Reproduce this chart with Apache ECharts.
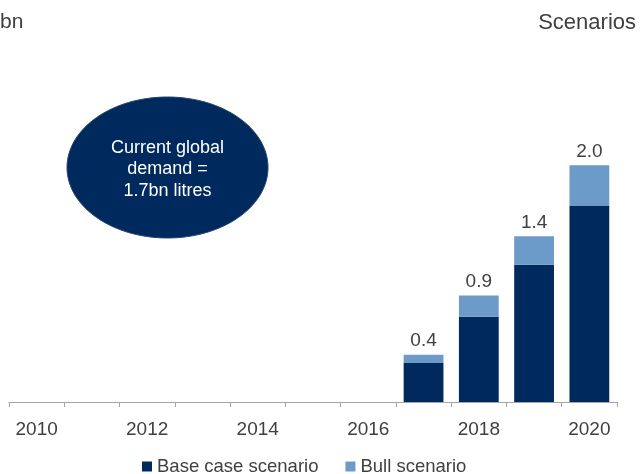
<!DOCTYPE html>
<html>
<head>
<meta charset="utf-8">
<script src="https://cdn.jsdelivr.net/npm/echarts@6/dist/echarts.min.js"></script>
<style>
  html, body { margin: 0; padding: 0; background: #fff; }
  #chart { width: 640px; height: 474px; }
</style>
</head>
<body>
<div id="chart"></div>
<script>
// Years on the category axis
const years = ['2010', '2011', '2012', '2013', '2014', '2015', '2016', '2017', '2018', '2019', '2020'];
// Base case scenario (bn litres)
const baseCase = [null, null, null, null, null, null, null, 0.33, 0.72, 1.16, 1.66];
// Bull scenario totals (bn litres), as labelled above each bar
const bullTotal = [null, null, null, null, null, null, null, 0.4, 0.9, 1.4, 2.0];
// Extra on top of the base case
const bullExtra = bullTotal.map((t, i) => (t == null ? null : +(t - baseCase[i]).toFixed(2)));

const NAVY = '#002A5E';
const LIGHT = '#6D9BC9';
const TEXT = '#404040';
const FONT = '"Liberation Sans", Arial, sans-serif';

const chart = echarts.init(document.getElementById('chart'));
chart.setOption({
  animation: false,
  textStyle: { fontFamily: FONT },
  grid: { left: 9, right: 23, top: 106, bottom: 72, containLabel: false },
  legend: {
    top: 452,
    left: 137,
    icon: 'rect',
    itemWidth: 10,
    itemHeight: 10,
    itemGap: 27,
    textStyle: { fontSize: 18.5, color: TEXT, fontFamily: FONT },
    data: ['Base case scenario', 'Bull scenario']
  },
  xAxis: {
    type: 'category',
    data: years,
    axisLine: { show: true, lineStyle: { color: '#A6A6A6', width: 1 } },
    axisTick: { show: true, interval: 0, length: 5, lineStyle: { color: '#A6A6A6' } },
    axisLabel: { interval: 1, fontSize: 19, color: TEXT, margin: 18, fontFamily: FONT }
  },
  yAxis: { type: 'value', min: 0, max: 2.5, show: false },
  series: [
    {
      name: 'Base case scenario',
      type: 'bar',
      stack: 'total',
      barWidth: '72%',
      itemStyle: { color: NAVY },
      data: baseCase
    },
    {
      name: 'Bull scenario',
      type: 'bar',
      stack: 'total',
      itemStyle: { color: LIGHT },
      label: {
        show: true,
        position: 'top',
        distance: 4,
        fontSize: 19,
        color: TEXT,
        fontFamily: FONT,
        formatter: p => bullTotal[p.dataIndex].toFixed(1)
      },
      data: bullExtra
    }
  ],
  graphic: [
    {
      type: 'text', left: 0, top: 12,
      style: { text: 'bn', fontSize: 21, fill: TEXT, fontFamily: FONT }
    },
    {
      type: 'text', right: 4, top: 12,
      style: { text: 'Scenarios', fontSize: 22, fill: TEXT, fontFamily: FONT }
    },
    {
      type: 'ellipse',
      shape: { cx: 167.5, cy: 167.5, rx: 100.5, ry: 70.5 },
      style: { fill: NAVY, stroke: '#24456f', lineWidth: 1 }
    },
    {
      type: 'text',
      x: 167.5, y: 169.5,
      style: {
        text: 'Current global\ndemand =\n1.7bn litres',
        fontSize: 18,
        lineHeight: 21.5,
        fill: '#ffffff',
        fontFamily: FONT,
        align: 'center',
        verticalAlign: 'middle'
      }
    }
  ]
});
</script>
</body>
</html>
